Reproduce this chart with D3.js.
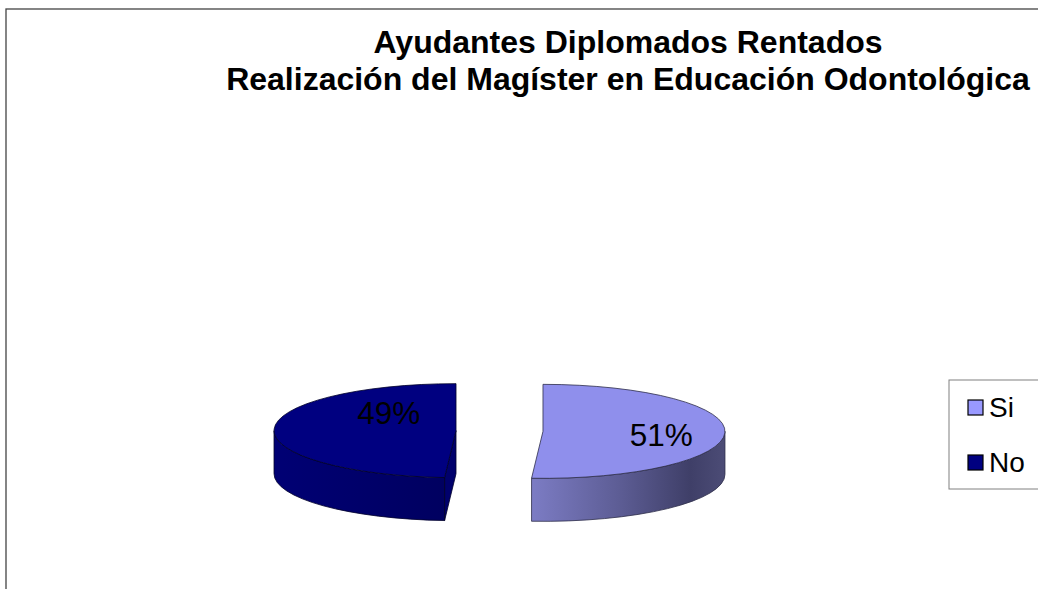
<!DOCTYPE html>
<meta charset="utf-8">
<style>
  body { margin: 0; background: #fff; }
  text { font-family: Arial, "Liberation Sans", sans-serif; }
</style>
<body>
<script src="https://cdn.jsdelivr.net/npm/d3@7/dist/d3.min.js"></script>
<script>

// Chart data
var categories = ["Si", "No"];
var values = [51, 49];
var labels = ["51%", "49%"];
var topColors = ["#8f8fec", "#000080"];
var legendColors = ["#9999ff", "#000080"];
var titleLines = ["Ayudantes Diplomados Rentados", "Realización del Magíster en Educación Odontológica"];

var width = 1038, height = 589;

var svg = d3.select("body").append("svg")
    .attr("width", width)
    .attr("height", height);

// chart area frame (runs off the right and bottom edges)
svg.append("rect")
    .attr("x", 6).attr("y", 9)
    .attr("width", 1200).attr("height", 800)
    .attr("fill", "none")
    .attr("stroke", "#444")
    .attr("stroke-width", 1.3);

// title
svg.selectAll(".title")
    .data(titleLines)
  .enter().append("text")
    .attr("class", "title")
    .attr("x", 628)
    .attr("y", function(d, i) { return 53 + i * 37; })
    .attr("text-anchor", "middle")
    .style("font-size", "32px")
    .style("font-weight", "bold")
    .text(function(d) { return d; });

// gradients for the side walls
var defs = svg.append("defs");
var gSi = defs.append("linearGradient").attr("id", "sideSi")
    .attr("x1", "0%").attr("x2", "100%").attr("y1", "0%").attr("y2", "0%");
[["0%", "#7c7cc4"], ["45%", "#5d5d95"], ["82%", "#3f3f68"], ["100%", "#4c4c76"]].forEach(function(s) {
  gSi.append("stop").attr("offset", s[0]).attr("stop-color", s[1]);
});
var gNo = defs.append("linearGradient").attr("id", "sideNo")
    .attr("x1", "0%").attr("x2", "100%").attr("y1", "0%").attr("y2", "0%");
[["0%", "#000074"], ["60%", "#000068"], ["100%", "#000060"]].forEach(function(s) {
  gNo.append("stop").attr("offset", s[0]).attr("stop-color", s[1]);
});
var sideFill = ["url(#sideSi)", "url(#sideNo)"];
var wallFill = ["#5a5a90", "#00006c"];

// 3D pie geometry
var cx = 499.5, cy = 431, rx = 182, ry = 47, depth = 43, explode = 43.5;

var pie = d3.pie().sort(null).value(function(d) { return d; });
var arcs = pie(values);

function pt(c, t, dy) {
  return [c[0] + rx * Math.sin(t), c[1] - ry * Math.cos(t) + (dy || 0)];
}

function topPath(c, a0, a1) {
  var p0 = pt(c, a0), p1 = pt(c, a1);
  var large = (a1 - a0) > Math.PI ? 1 : 0;
  return "M" + c[0] + "," + c[1] + "L" + p0 + "A" + rx + "," + ry + " 0 " + large + " 1 " + p1 + "Z";
}

function outerPath(c, a0, a1) {
  var t0 = Math.max(a0, Math.PI / 2), t1 = Math.min(a1, 3 * Math.PI / 2);
  if (t1 <= t0) return null;
  var p0 = pt(c, t0), p1 = pt(c, t1), q1 = pt(c, t1, depth), q0 = pt(c, t0, depth);
  return "M" + p0 + "A" + rx + "," + ry + " 0 0 1 " + p1 + "L" + q1 +
         "A" + rx + "," + ry + " 0 0 0 " + q0 + "Z";
}

function wallPath(c, t) {
  var p = pt(c, t);
  return "M" + c[0] + "," + c[1] + "L" + p + "L" + [p[0], p[1] + depth] +
         "L" + [c[0], c[1] + depth] + "Z";
}

// label placement inside the top faces, as fractions of the radii
var labelSpot = [[0.65, 0.07], [-0.37, -0.38]];

var g = svg.append("g");

arcs.forEach(function(d, i) {
  var mid = (d.startAngle + d.endAngle) / 2;
  var c = [cx + explode * Math.sin(mid), cy - explode * (ry / rx) * Math.cos(mid)];
  var slice = g.append("g");
  var stroke = i == 0 ? "#2e2e4a" : "#00002a";

  // radial walls that face the viewer
  if (Math.sin(d.startAngle) < -1e-6) {
    slice.append("path").attr("d", wallPath(c, d.startAngle))
        .attr("fill", wallFill[i]).attr("stroke", stroke).attr("stroke-width", 0.8);
  }
  if (Math.sin(d.endAngle) > 1e-6) {
    slice.append("path").attr("d", wallPath(c, d.endAngle))
        .attr("fill", wallFill[i]).attr("stroke", stroke).attr("stroke-width", 0.8);
  }
  var op = outerPath(c, d.startAngle, d.endAngle);
  if (op) {
    slice.append("path").attr("d", op)
        .attr("fill", sideFill[i]).attr("stroke", stroke).attr("stroke-width", 0.8);
  }
  slice.append("path").attr("d", topPath(c, d.startAngle, d.endAngle))
      .attr("fill", topColors[i]).attr("stroke", stroke).attr("stroke-width", 0.8);

  slice.append("text")
      .attr("x", c[0] + labelSpot[i][0] * rx)
      .attr("y", c[1] + labelSpot[i][1] * ry + 11)
      .attr("text-anchor", "middle")
      .style("font-size", "31.5px")
      .attr("fill", "#000")
      .text(labels[i]);
});

// legend
var legend = svg.append("g");
legend.append("rect")
    .attr("x", 949).attr("y", 380)
    .attr("width", 120).attr("height", 109)
    .attr("fill", "#fff")
    .attr("stroke", "#808080");

var item = legend.selectAll(".item")
    .data(categories)
  .enter().append("g")
    .attr("class", "item")
    .attr("transform", function(d, i) { return "translate(968," + (400 + i * 55) + ")"; });

item.append("rect")
    .attr("width", 15).attr("height", 15)
    .attr("fill", function(d, i) { return legendColors[i]; })
    .attr("stroke", "#000")
    .attr("stroke-width", 1.2);

item.append("text")
    .attr("x", 21).attr("y", 17)
    .style("font-size", "28px")
    .text(function(d) { return d; });

</script>
</body>
